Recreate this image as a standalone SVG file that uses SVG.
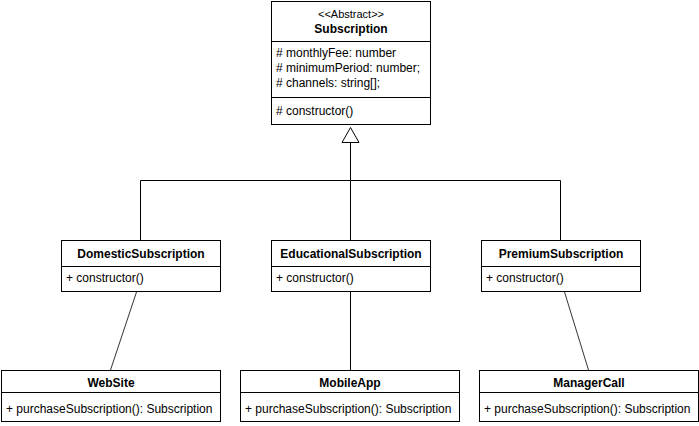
<svg xmlns="http://www.w3.org/2000/svg" width="699" height="426" viewBox="0 0 699 426">
<style>
.box{fill:#fff;stroke:#000;stroke-width:1}
.ln{fill:none;stroke:#000;stroke-width:1}
.sl{fill:none;stroke:#333;stroke-width:1}
text{font-family:"Liberation Sans",Arial,sans-serif;font-size:12px;fill:#000}
.t{font-weight:bold;text-anchor:middle}
.s{font-size:11px;text-anchor:middle}
</style>
<rect width="699" height="426" fill="#fff"/>
<g id="connectors">
<path class="ln" d="M350.5 142.5V240.5M140.5 240.5V180.5H560.5V240.5"/>
<path class="ln" d="M350.5 127.5L342 142.5H359Z" fill="#fff" style="fill:#fff"/>
<path class="sl" d="M136.5 292L110.5 370"/>
<path class="ln" d="M350.5 292V370"/>
<path class="sl" d="M564.5 292L588.5 370"/>
</g>
<g id="Subscription">
<rect class="box" x="271.5" y="1.5" width="159" height="123"/>
<path class="ln" d="M271.5 41.5H430.5M271.5 97.5H430.5"/>
<text class="s" x="351" y="18">&lt;&lt;Abstract&gt;&gt;</text>
<text class="t" x="351" y="33">Subscription</text>
<text x="276" y="57">#  monthlyFee: number</text>
<text x="276" y="72">#  minimumPeriod: number;</text>
<text x="276" y="87">#  channels: string[];</text>
<text x="276" y="115">#  constructor()</text>
</g>
<g id="DomesticSubscription">
<rect class="box" x="61.5" y="240.5" width="159" height="51"/>
<path class="ln" d="M61.5 266.5H220.5"/>
<text class="t" x="141" y="258">DomesticSubscription</text>
<text x="66" y="282">+ constructor()</text>
</g>
<g id="EducationalSubscription">
<rect class="box" x="271.5" y="240.5" width="159" height="51"/>
<path class="ln" d="M271.5 266.5H430.5"/>
<text class="t" x="351" y="258">EducationalSubscription</text>
<text x="276" y="282">+ constructor()</text>
</g>
<g id="PremiumSubscription">
<rect class="box" x="481.5" y="240.5" width="159" height="51"/>
<path class="ln" d="M481.5 266.5H640.5"/>
<text class="t" x="561" y="258">PremiumSubscription</text>
<text x="486" y="282">+ constructor()</text>
</g>
<g id="WebSite">
<rect class="box" x="1.5" y="370.5" width="219" height="51"/>
<path class="ln" d="M1.5 392.5H220.5"/>
<text class="t" x="111" y="387">WebSite</text>
<text x="6" y="413">+ purchaseSubscription(): Subscription</text>
</g>
<g id="MobileApp">
<rect class="box" x="240.5" y="370.5" width="219" height="51"/>
<path class="ln" d="M240.5 392.5H459.5"/>
<text class="t" x="350" y="387">MobileApp</text>
<text x="245" y="413">+ purchaseSubscription(): Subscription</text>
</g>
<g id="ManagerCall">
<rect class="box" x="479.5" y="370.5" width="219" height="51"/>
<path class="ln" d="M479.5 392.5H698.5"/>
<text class="t" x="589" y="387">ManagerCall</text>
<text x="484" y="413">+ purchaseSubscription(): Subscription</text>
</g>
</svg>
